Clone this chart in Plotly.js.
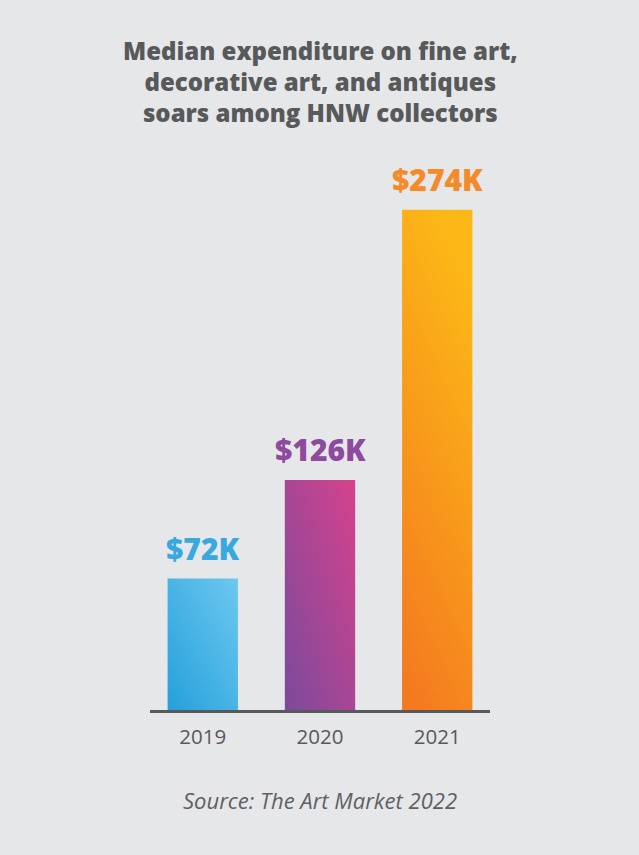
<!DOCTYPE html>
<html>
<head>
<meta charset="utf-8">
<script src="https://cdn.plot.ly/plotly-3.0.1.min.js"></script>
<style>
html,body{margin:0;padding:0;background:#e6e7e9;}
#chart{width:639px;height:855px;}
</style>
</head>
<body>
<div id="chart"></div>
<script>
// Data
const years = ["2019", "2020", "2021"];
const medianSpend = [72, 126, 274]; // thousand USD
const valueLabels = ["$72K", "$126K", "$274K"];
const labelColors = ["#3aa8e0", "#8e4a9e", "#f58a2a"];
const barBaseColors = ["#46b3e6", "#a8479a", "#f6981d"];
const gradients = [
  {x1: 0, y1: 1, x2: 1, y2: 0, stops: ["#25a0db", "#6dc8f0"]},
  {x1: 0, y1: 1, x2: 1, y2: 0, stops: ["#7b4a9c", "#d6428d"]},
  {x1: 0.2, y1: 1, x2: 0.5, y2: 0, stops: ["#f47920", "#fcb816"]}
];

const titleText = "Median expenditure on fine art,<br>decorative art, and antiques<br>soars among HNW collectors";
const sourceText = "Source: The Art Market 2022";

const trace = {
  type: "bar",
  x: years,
  y: medianSpend,
  width: 0.6,
  marker: {color: barBaseColors, line: {width: 0}},
  hoverinfo: "none"
};

// category index positions for annotations (years look numeric)
const annotations = years.map((yr, i) => ({
  x: i, y: medianSpend[i], xref: "x", yref: "y",
  text: valueLabels[i], showarrow: false,
  xanchor: "center", yanchor: "bottom", yshift: 8,
  font: {family: "'Open Sans', sans-serif", size: 30, weight: 800, color: labelColors[i]}
}));

annotations.push({
  x: 0.5, y: 1.1436, xref: "paper", yref: "paper",
  text: titleText, showarrow: false, xanchor: "center", yanchor: "middle",
  font: {family: "'Open Sans', sans-serif", size: 24, weight: 800, color: "#58595b"}
});
annotations.push({
  x: 0.5, y: -0.1636, xref: "paper", yref: "paper",
  text: "<i>" + sourceText + "</i>", showarrow: false, xanchor: "center", yanchor: "middle",
  font: {family: "'Open Sans', sans-serif", size: 22, color: "#606064"}
});

const layout = {
  width: 639, height: 855,
  margin: {l: 150, r: 149, t: 160, b: 145},
  paper_bgcolor: "#e6e7e9",
  plot_bgcolor: "#e6e7e9",
  showlegend: false,
  xaxis: {
    type: "category",
    range: [-0.45, 2.45],
    showline: true, linecolor: "#58595b", linewidth: 2.5,
    ticks: "", showgrid: false, zeroline: false,
    tickfont: {family: "'Open Sans', sans-serif", size: 20.5, color: "#58595b"},
    ticklabelstandoff: 7,
    fixedrange: true
  },
  yaxis: {
    range: [0, 301.2],
    visible: false, showgrid: false, zeroline: false,
    fixedrange: true
  },
  annotations: annotations
};

Plotly.newPlot("chart", [trace], layout, {displayModeBar: false, staticPlot: true}).then(gd => {
  const svg = gd.querySelector("svg.main-svg");
  const ns = "http://www.w3.org/2000/svg";
  let defs = svg.querySelector("defs");
  if (!defs) { defs = document.createElementNS(ns, "defs"); svg.insertBefore(defs, svg.firstChild); }
  gradients.forEach((g, i) => {
    const lg = document.createElementNS(ns, "linearGradient");
    lg.setAttribute("id", "barGrad" + i);
    lg.setAttribute("x1", g.x1); lg.setAttribute("y1", g.y1);
    lg.setAttribute("x2", g.x2); lg.setAttribute("y2", g.y2);
    g.stops.forEach((c, k) => {
      const st = document.createElementNS(ns, "stop");
      st.setAttribute("offset", k === 0 ? "0" : "1");
      st.setAttribute("stop-color", c);
      lg.appendChild(st);
    });
    defs.appendChild(lg);
  });
  const paths = gd.querySelectorAll(".barlayer .point path");
  paths.forEach((p, i) => { p.style.fill = "url(#barGrad" + i + ")"; p.style.fillOpacity = 1; });
});
</script>
</body>
</html>
